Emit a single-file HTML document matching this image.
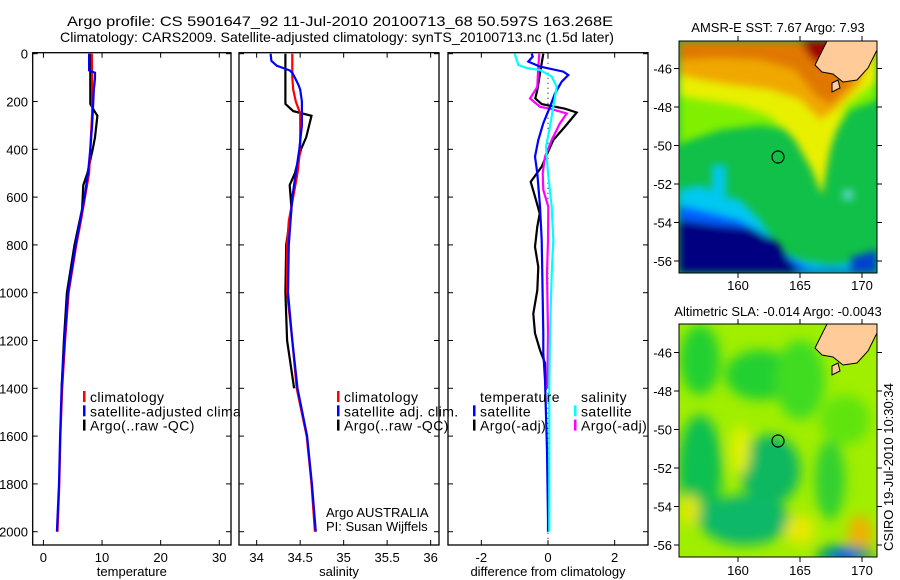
<!DOCTYPE html>
<html><head><meta charset="utf-8"><style>
html,body{margin:0;padding:0;background:#fff;}
svg{display:block;font-family:"Liberation Sans",Arial,sans-serif;}
</style></head><body>
<svg id="chart" width="900" height="580" viewBox="0 0 900 580">
<defs>
<filter id="blur" x="-10%" y="-10%" width="120%" height="120%"><feGaussianBlur stdDeviation="4"/></filter>
<filter id="blur2" x="-10%" y="-10%" width="120%" height="120%"><feGaussianBlur stdDeviation="6"/></filter>
<clipPath id="clipTop"><rect x="679" y="41" width="198" height="232"/></clipPath>
<clipPath id="clipBot"><rect x="679" y="324" width="198" height="233"/></clipPath>
<clipPath id="clipLeg1"><rect x="0" y="380" width="240" height="60"/></clipPath>
</defs>
<text x="340" y="26" font-size="14" text-anchor="middle" textLength="546" lengthAdjust="spacingAndGlyphs">Argo profile: CS 5901647_92 11-Jul-2010 20100713_68 50.597S 163.268E</text>
<text x="337" y="42" font-size="14" text-anchor="middle" textLength="554" lengthAdjust="spacingAndGlyphs">Climatology: CARS2009. Satellite-adjusted climatology: synTS_20100713.nc (1.5d later)</text>
<g id="panels"></g>

<!-- top map -->
<g>
<text x="778" y="32" font-size="13" text-anchor="middle">AMSR-E SST: 7.67 Argo: 7.93</text>
<g clip-path="url(#clipTop)">
<rect x="679" y="41" width="198" height="232" fill="#10c048"/>
<g filter="url(#blur)">
<polygon fill="#80f000" points="679,41 877,41 877,100 850,110 830,140 815,150 790,130 760,125 720,130 690,140 679,145"/>
<polygon fill="#e8f000" points="679,41 877,41 877,80 845,105 830,150 822,195 812,170 795,140 770,115 740,105 710,100 679,95"/>
<polygon fill="#f0a800" points="679,41 877,41 860,85 835,110 820,120 800,100 770,90 730,85 700,80 679,75"/>
<polygon fill="#e07800" points="679,41 877,41 850,85 830,105 815,95 795,70 760,60 720,58 679,60"/>
<polygon fill="#a00000" points="800,41 835,41 825,65 812,60"/>
<polygon fill="#00c8f0" points="679,190 700,185 720,195 740,200 760,220 780,250 800,260 830,265 877,260 877,273 679,273"/>
<polygon fill="#0060ff" points="679,205 710,212 740,220 765,235 790,258 810,268 877,268 877,273 679,273"/>
<polygon fill="#000080" points="679,220 715,225 750,228 775,240 792,262 800,273 679,273"/>
<polygon fill="#0040d0" points="850,258 877,250 877,273 850,273"/>
<rect x="712" y="165" width="14" height="30" fill="#00c8f0"/>
<rect x="843" y="190" width="10" height="10" fill="#60d8d0"/>
</g>
<polygon fill="#ffcc99" stroke="#000" stroke-width="1" points="827,41 877,41 877,50 868,68 857,80 843,82 833,74 822,72 815,65 820,55"/>
<polygon fill="#ffcc99" stroke="#000" stroke-width="1" points="832,83 838,80 840,88 832,92"/>
</g>
<rect x="679" y="41" width="198" height="232" fill="none" stroke="#000" stroke-width="1"/>
<circle cx="778" cy="157" r="6" fill="none" stroke="#000" stroke-width="1.2"/>
<g id="topMapAxes"></g>
</g>

<!-- bottom map -->
<g>
<text x="778" y="316" font-size="13" text-anchor="middle">Altimetric SLA: -0.014 Argo: -0.0043</text>
<g clip-path="url(#clipBot)">
<rect x="679" y="324" width="198" height="233" fill="#a0ee00"/>
<g filter="url(#blur2)">
<ellipse cx="700" cy="360" rx="20" ry="35" fill="#20d030"/>
<ellipse cx="760" cy="375" rx="35" ry="25" fill="#20d030"/>
<ellipse cx="800" cy="380" rx="25" ry="40" fill="#40dc20"/>
<ellipse cx="845" cy="420" rx="25" ry="25" fill="#60e410"/>
<ellipse cx="700" cy="470" rx="22" ry="55" fill="#10c050"/>
<ellipse cx="770" cy="470" rx="30" ry="35" fill="#10b860"/>
<ellipse cx="745" cy="520" rx="45" ry="25" fill="#10b868"/>
<ellipse cx="830" cy="480" rx="15" ry="40" fill="#30d030"/>
<ellipse cx="740" cy="450" rx="10" ry="25" fill="#e0f000"/>
<ellipse cx="690" cy="510" rx="10" ry="15" fill="#e0e800"/>
<ellipse cx="800" cy="530" rx="15" ry="15" fill="#e8e800"/>
<ellipse cx="860" cy="535" rx="12" ry="20" fill="#f0b000"/>
<ellipse cx="845" cy="555" rx="30" ry="10" fill="#00a060"/>
<ellipse cx="845" cy="556" rx="15" ry="6" fill="#0040ff"/>
</g>
<polygon fill="#ffcc99" stroke="#000" stroke-width="1" points="827,324 877,324 877,333 868,351 857,363 843,365 833,357 822,355 815,348 820,338"/>
<polygon fill="#ffcc99" stroke="#000" stroke-width="1" points="832,366 838,363 840,371 832,375"/>
</g>
<rect x="679" y="324" width="198" height="233" fill="none" stroke="#000" stroke-width="1"/>
<circle cx="778" cy="441" r="6" fill="none" stroke="#000" stroke-width="1.2"/>
<g id="botMapAxes"></g>
</g>
<text transform="translate(893,467) rotate(-90)" font-size="13" text-anchor="middle">CSIRO 19-Jul-2010 10:30:34</text>
</svg>
<script>
// ---- data ----
const depthTicks = [0,200,400,600,800,1000,1200,1400,1600,1800,2000];
const tempTicks = [0,10,20,30];
const salTicks = [34,34.5,35,35.5,36];
const salTickLabels = ["34","34.5","35","35.5","36"];
const diffTicks = [-2,0,2];

const climDepth = [0,100,150,200,250,400,500,600,700,800,1000,1200,1400,1600,1800,2000];
const climTemp  = [8.25,8.3,8.35,8.35,8.3,8.0,7.8,7.1,6.4,5.6,4.3,3.7,3.2,2.9,2.7,2.4];
const climSal   = [34.41,34.41,34.42,34.45,34.5,34.5,34.47,34.42,34.37,34.35,34.35,34.41,34.46,34.575,34.63,34.67];

const satDepth = [0,30,50,70,80,100,130,150,200,300,400,500,600,800,1000,1200,1400,1600,1800,2000];
const satTemp  = [7.8,7.8,7.8,7.8,8.8,8.8,8.7,8.6,8.5,8.3,8.0,7.6,7.0,5.5,4.2,3.6,3.1,2.85,2.65,2.3];
const satSal   = [34.16,34.17,34.23,34.38,34.41,34.44,34.48,34.5,34.52,34.52,34.49,34.45,34.41,34.37,34.36,34.41,34.47,34.58,34.635,34.68];

const argoDepth = [0,210,240,260,350,400,500,550,650,800,1000,1200,1400];
const argoTemp  = [8.0,8.0,8.7,9.2,8.8,8.4,7.5,6.8,6.6,5.3,4.0,3.5,3.1];
const argoSal   = [34.33,34.33,34.42,34.63,34.57,34.51,34.44,34.38,34.4,34.34,34.33,34.35,34.43];

const dTsatDepth = [0,12,33,54,75,89,117,166,222,291,361,431,500,640,780,1170,1252,1365,1660,1950,2000];
const dTsat      = [-0.49,-0.46,-0.59,-0.24,0.46,0.61,0.41,0.21,0.06,-0.14,-0.29,-0.39,-0.32,-0.24,-0.19,-0.14,-0.14,-0.09,-0.03,0,0];
const dTargoDepth = [0,82,152,187,211,230,246,305,361,417,473,536,598,668,724,808,892,990,1088,1170,1240,1295,1407];
const dTargo      = [-0.14,-0.24,-0.32,-0.38,-0.19,0.51,0.86,0.51,0.16,-0.02,-0.19,-0.52,-0.39,-0.25,-0.32,-0.39,-0.29,-0.32,-0.44,-0.39,-0.24,-0.09,-0.07];
const dSsatDepth = [0,47,60,68,96,138,222,305,389,500,640,780,920,1170,1400,2000];
const dSsat      = [-1.0,-0.89,-0.64,-0.24,0.11,0.26,0.16,0.06,-0.06,0,0.11,0.16,0.11,0.06,0.04,0.04];
const dSargoDepth = [0,54,138,166,187,222,230,250,291,361,431,500,570,640,780,920,1170,1400];
const dSargo      = [-0.26,-0.29,-0.32,-0.44,-0.54,-0.24,0.06,0.56,0.36,0.11,-0.09,-0.16,-0.14,0.01,0,-0.03,0,-0.02];

const mapLatTicks = [-46,-48,-50,-52,-54,-56];
const mapLonTicks = [160,165,170];

// ---- helpers ----
const NS = "http://www.w3.org/2000/svg";
const svg = document.getElementById("chart");
const panelsG = document.getElementById("panels");
function mk(tag, attrs, parent){ const e=document.createElementNS(NS,tag); for(const k in attrs) e.setAttribute(k,attrs[k]); (parent||panelsG).appendChild(e); return e; }
const yTop=52.7, yBot=545;
function yScale(d){ return 53.7 + d*0.2390; }

const panels = [
  {name:"temperature-panel", x0:32.7, x1:231, v0:-1.83, v1:32, ticks:tempTicks, labels:tempTicks.map(String), title:"temperature"},
  {name:"salinity-panel", x0:239, x1:439, v0:33.797, v1:36.096, ticks:salTicks, labels:salTickLabels, title:"salinity"},
  {name:"difference-panel", x0:448, x1:648, v0:-3.0, v1:3.0, ticks:diffTicks, labels:diffTicks.map(String), title:"difference from climatology"}
];
function xs(p){ return v => p.x0 + (v-p.v0)/(p.v1-p.v0)*(p.x1-p.x0); }

panels.forEach((p,i)=>{
  const g = mk("g",{});
  
  
  const fr = mk("rect",{x:p.x0,y:yTop,width:p.x1-p.x0,height:yBot-yTop,fill:"none",stroke:"#000","stroke-width":1.3},g);
  
  
  const X = xs(p);
  p.ticks.forEach((t,j)=>{
    const x = X(t);
    mk("line",{x1:x,y1:yTop,x2:x,y2:yTop+5,stroke:"#000"},g);
    mk("line",{x1:x,y1:yBot,x2:x,y2:yBot-5,stroke:"#000"},g);
    const tl = mk("text",{x:x,y:562,"font-size":13,"text-anchor":"middle"},g);
    tl.textContent = p.labels[j];
    
    
  });
  depthTicks.forEach(d=>{
    const y = yScale(d);
    mk("line",{x1:p.x0,y1:y,x2:p.x0+5,y2:y,stroke:"#000"},g);
    mk("line",{x1:p.x1,y1:y,x2:p.x1-5,y2:y,stroke:"#000"},g);
    if(i===0){
      const tl = mk("text",{x:28,y:y+5,"font-size":13,"text-anchor":"end"},g);
      tl.textContent = String(d);
      
      
    }
  });
  const at = mk("text",{x:(p.x0+p.x1)/2,y:576,"font-size":13,"text-anchor":"middle"},g);
  at.textContent = p.title;
  
  
  p.g = g; p.X = X;
});

function series(p, depths, vals, color, name){
  const pts = depths.map((d,k)=>p.X(vals[k]).toFixed(1)+","+yScale(d).toFixed(1)).join(" ");
  const l = mk("polyline",{points:pts,fill:"none",stroke:color,"stroke-width":2.2,"stroke-linejoin":"miter"},p.g);
  
  
}
const zl = mk("line",{x1:panels[2].X(0),y1:yTop,x2:panels[2].X(0),y2:yBot,stroke:"#000","stroke-width":1,"stroke-dasharray":"1,4"},panels[2].g);



series(panels[0], argoDepth, argoTemp, "#000", "argo-temperature-line");
series(panels[0], climDepth, climTemp, "#f00", "climatology-temperature-line");
series(panels[0], satDepth, satTemp, "#00f", "satellite-temperature-line");
series(panels[1], argoDepth, argoSal, "#000", "argo-salinity-line");
series(panels[1], climDepth, climSal, "#f00", "climatology-salinity-line");
series(panels[1], satDepth, satSal, "#00f", "satellite-salinity-line");
series(panels[2], dTargoDepth, dTargo, "#000", "temperature-argo-diff-line");
series(panels[2], dSargoDepth, dSargo, "#f0f", "salinity-argo-diff-line");
series(panels[2], dTsatDepth, dTsat, "#00f", "temperature-satellite-diff-line");
series(panels[2], dSsatDepth, dSsat, "#0ff", "salinity-satellite-diff-line");

function legend(x, y, items, nm, clip){
  const g = mk("g",{});
  
  
  if(clip) g.setAttribute('clip-path', clip);
  items.forEach((it,k)=>{
    const yy = y + k*14.3;
    if(it[1]) mk("rect",{x:x,y:yy-11,width:2.5,height:11,fill:it[1]},g);
    const t = mk("text",{x:x+7,y:yy,"font-size":14,"letter-spacing":0.4},g);
    t.textContent = it[0];
    
    
  });
}
legend(83, 402, [["climatology","#f00"],["satellite-adjusted climatology","#00f"],["Argo(..raw -QC)","#000"]], "temperature-legend", "url(#clipLeg1)");
legend(337, 402, [["climatology","#f00"],["satellite adj. clim.","#00f"],["Argo(..raw -QC)","#000"]], "salinity-legend");
legend(473, 402, [["temperature",null],["satellite","#00f"],["Argo(-adj)","#000"]], "diff-temperature-legend");
legend(574, 402, [["salinity",null],["satellite","#0ff"],["Argo(-adj)","#f0f"]], "diff-salinity-legend");
const c1 = mk("text",{x:326,y:517,"font-size":13}); c1.textContent="Argo AUSTRALIA";


const c2 = mk("text",{x:326,y:531,"font-size":13}); c2.textContent="PI: Susan Wijffels";



function mapAxes(gid, top, bot, latY0, latStep, labY){
  const g = document.getElementById(gid);
  mapLatTicks.forEach((lat,k)=>{
    const y = latY0 + k*latStep;
    mk("line",{x1:674,y1:y,x2:679,y2:y,stroke:"#000"},g);
    mk("line",{x1:877,y1:y,x2:882,y2:y,stroke:"#000"},g);
    const t = mk("text",{x:672,y:y+5,"font-size":13,"text-anchor":"end"},g);
    t.textContent = String(lat);
    
    
  });
  mapLonTicks.forEach(lon=>{
    const x = 738 + (lon-160)*12.4;
    mk("line",{x1:x,y1:top-5,x2:x,y2:top,stroke:"#000"},g);
    mk("line",{x1:x,y1:bot,x2:x,y2:bot+5,stroke:"#000"},g);
    const t = mk("text",{x:x,y:labY,"font-size":13,"text-anchor":"middle"},g);
    t.textContent = String(lon);
    
    
  });
}
mapAxes("topMapAxes", 41, 273, 68.5, 38.5, 290);
mapAxes("botMapAxes", 324, 557, 352.5, 38.5, 575);
</script>
</body></html>
